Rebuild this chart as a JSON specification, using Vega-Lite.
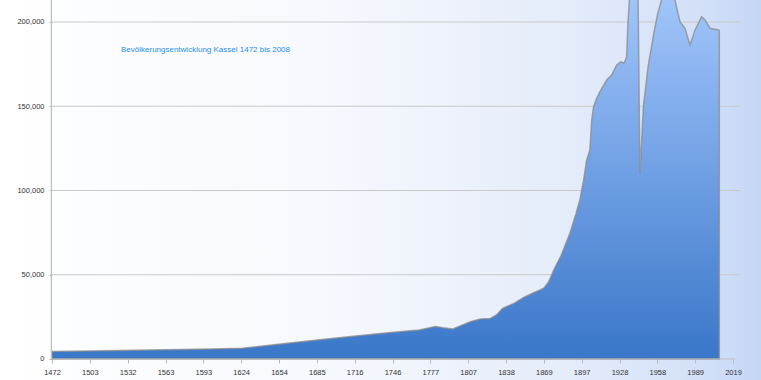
{
  "$schema": "https://vega.github.io/schema/vega-lite/v6.json",
  "width": 761,
  "height": 380,
  "autosize": {"type": "none"},
  "padding": 0,
  "background": "#ffffff",
  "config": {
    "font": "Liberation Sans",
    "view": {
      "stroke": null,
      "fill": {
        "gradient": "linear",
        "x1": 0, "y1": 0.5, "x2": 1, "y2": 0.5,
        "stops": [
          {"offset": 0, "color": "#ffffff"},
          {"offset": 0.45, "color": "#f5f8fd"},
          {"offset": 0.75, "color": "#e4ecfa"},
          {"offset": 0.92, "color": "#d3e0f8"},
          {"offset": 1, "color": "#c5d6f5"}
        ]
      }
    }
  },
  "title": {
    "text": "Bevölkerungsentwicklung Kassel 1472 bis 2008",
    "anchor": "start",
    "frame": "group",
    "dx": 121,
    "offset": -59,
    "baseline": "middle",
    "fontSize": 8,
    "fontWeight": "normal",
    "font": "Liberation Sans",
    "color": "#2a8ee6"
  },
  "layer": [
    {
      "data": {"values": [{"g": 50000}, {"g": 100000}, {"g": 150000}, {"g": 200000}]},
      "mark": {"type": "rule", "color": "#c9c9c9", "strokeWidth": 1.2},
      "encoding": {
        "y": {"field": "g", "type": "quantitative", "scale": {"domain": [-12463, 213056], "nice": false, "zero": false}},
        "x": {"datum": 1470.5, "type": "quantitative", "scale": {"domain": [1430.23, 2041.49], "nice": false, "zero": false}},
        "x2": {"datum": 2025}
      }
    },
    {
      "data": {"values": [
        {"year": 1472, "pop": 4400},
        {"year": 1500, "pop": 4800},
        {"year": 1550, "pop": 5300},
        {"year": 1600, "pop": 5900},
        {"year": 1625, "pop": 6400},
        {"year": 1654, "pop": 8700},
        {"year": 1685, "pop": 11300},
        {"year": 1716, "pop": 13600},
        {"year": 1740, "pop": 15400},
        {"year": 1751, "pop": 16200},
        {"year": 1767, "pop": 17200},
        {"year": 1780, "pop": 19300},
        {"year": 1786, "pop": 18600},
        {"year": 1794, "pop": 17800},
        {"year": 1808, "pop": 22100},
        {"year": 1816, "pop": 23700},
        {"year": 1824, "pop": 24100},
        {"year": 1829, "pop": 26100},
        {"year": 1834, "pop": 30100},
        {"year": 1843, "pop": 33000},
        {"year": 1851, "pop": 36600},
        {"year": 1858, "pop": 39000},
        {"year": 1864, "pop": 41000},
        {"year": 1867, "pop": 42000},
        {"year": 1871, "pop": 45900},
        {"year": 1875, "pop": 52800},
        {"year": 1881, "pop": 61500},
        {"year": 1888, "pop": 74600},
        {"year": 1893, "pop": 86500},
        {"year": 1896, "pop": 94400},
        {"year": 1898, "pop": 102300},
        {"year": 1899, "pop": 106200},
        {"year": 1901.5, "pop": 118100},
        {"year": 1904, "pop": 124000},
        {"year": 1905.5, "pop": 141800},
        {"year": 1907, "pop": 149700},
        {"year": 1909.5, "pop": 154700},
        {"year": 1912, "pop": 158600},
        {"year": 1917.5, "pop": 165600},
        {"year": 1921.5, "pop": 168500},
        {"year": 1925.6, "pop": 174500},
        {"year": 1928.8, "pop": 176400},
        {"year": 1931.5, "pop": 175500},
        {"year": 1933.6, "pop": 179400},
        {"year": 1934.5, "pop": 198000},
        {"year": 1935.8, "pop": 213000},
        {"year": 1939, "pop": 216000},
        {"year": 1942.7, "pop": 218000},
        {"year": 1944.3, "pop": 110000},
        {"year": 1947, "pop": 149700},
        {"year": 1950.8, "pop": 173500},
        {"year": 1955.4, "pop": 193300},
        {"year": 1958.5, "pop": 205000},
        {"year": 1961.6, "pop": 213000},
        {"year": 1965, "pop": 216000},
        {"year": 1970, "pop": 216000},
        {"year": 1972.4, "pop": 213000},
        {"year": 1976.4, "pop": 200200},
        {"year": 1980.4, "pop": 196300},
        {"year": 1984.5, "pop": 186400},
        {"year": 1988.5, "pop": 195300},
        {"year": 1993.8, "pop": 203100},
        {"year": 1996.5, "pop": 201200},
        {"year": 2000.5, "pop": 196300},
        {"year": 2007.2, "pop": 195300},
        {"year": 2008, "pop": 195000}
      ]},
      "mark": {
        "type": "area",
        "clip": true,
        "stroke": "#8a8a8a",
        "strokeWidth": 1.5,
        "strokeOpacity": 0.75,
        "fill": {
          "gradient": "linear",
          "x1": 0, "y1": 0, "x2": 0, "y2": 1,
          "stops": [
            {"offset": 0, "color": "#a2c6fb"},
            {"offset": 0.5, "color": "#6f9fe3"},
            {"offset": 1, "color": "#3a77c9"}
          ]
        }
      },
      "encoding": {
        "x": {
          "field": "year", "type": "quantitative",
          "scale": {"domain": [1430.23, 2041.49], "nice": false, "zero": false},
          "axis": {
            "values": [1472, 1502.389, 1532.778, 1563.167, 1593.556, 1623.944, 1654.333, 1684.722, 1715.111, 1745.5, 1775.889, 1806.278, 1836.667, 1867.056, 1897.444, 1927.833, 1958.222, 1988.611, 2019],
            "labelExpr": "['1472','1503','1532','1563','1593','1624','1654','1685','1716','1746','1777','1807','1838','1869','1897','1928','1958','1989','2019'][round((datum.value-1472)/30.3889)]",
            "offset": -21,
            "domain": false,
            "grid": false,
            "ticks": true,
            "tickSize": 4,
            "tickColor": "#bbbbbb",
            "labelFontSize": 7.5,
            "labelColor": "#333333",
            "labelPadding": 5,
            "labelOverlap": false,
            "labelFlush": false,
            "labelBound": false,
            "title": null
          }
        },
        "y": {
          "field": "pop", "type": "quantitative",
          "scale": {"domain": [-12463, 213056], "nice": false, "zero": false},
          "axis": {
            "values": [0, 50000, 100000, 150000, 200000],
            "format": ",d",
            "offset": -52,
            "domain": false,
            "grid": false,
            "ticks": true,
            "tickSize": 3,
            "tickColor": "#bbbbbb",
            "labelFontSize": 7.5,
            "labelColor": "#333333",
            "labelPadding": 5,
            "labelOverlap": false,
            "labelFlush": false,
            "labelBound": false,
            "title": null
          }
        },
        "y2": {"datum": 0}
      }
    },
    {
      "data": {"values": [{"a": 0}]},
      "mark": {"type": "rule", "color": "#bdbdbd", "strokeWidth": 1.2},
      "encoding": {
        "x": {"datum": 1471.5, "type": "quantitative", "scale": {"domain": [1430.23, 2041.49], "nice": false, "zero": false}},
        "y": {"datum": 0, "type": "quantitative", "scale": {"domain": [-12463, 213056], "nice": false, "zero": false}},
        "y2": {"datum": 213056}
      }
    },
    {
      "data": {"values": [{"a": 0}]},
      "mark": {"type": "rule", "color": "#bdbdbd", "strokeWidth": 1.2},
      "encoding": {
        "x": {"datum": 1471.5, "type": "quantitative", "scale": {"domain": [1430.23, 2041.49], "nice": false, "zero": false}},
        "x2": {"datum": 2021},
        "y": {"datum": 0, "type": "quantitative", "scale": {"domain": [-12463, 213056], "nice": false, "zero": false}}
      }
    }
  ]
}
